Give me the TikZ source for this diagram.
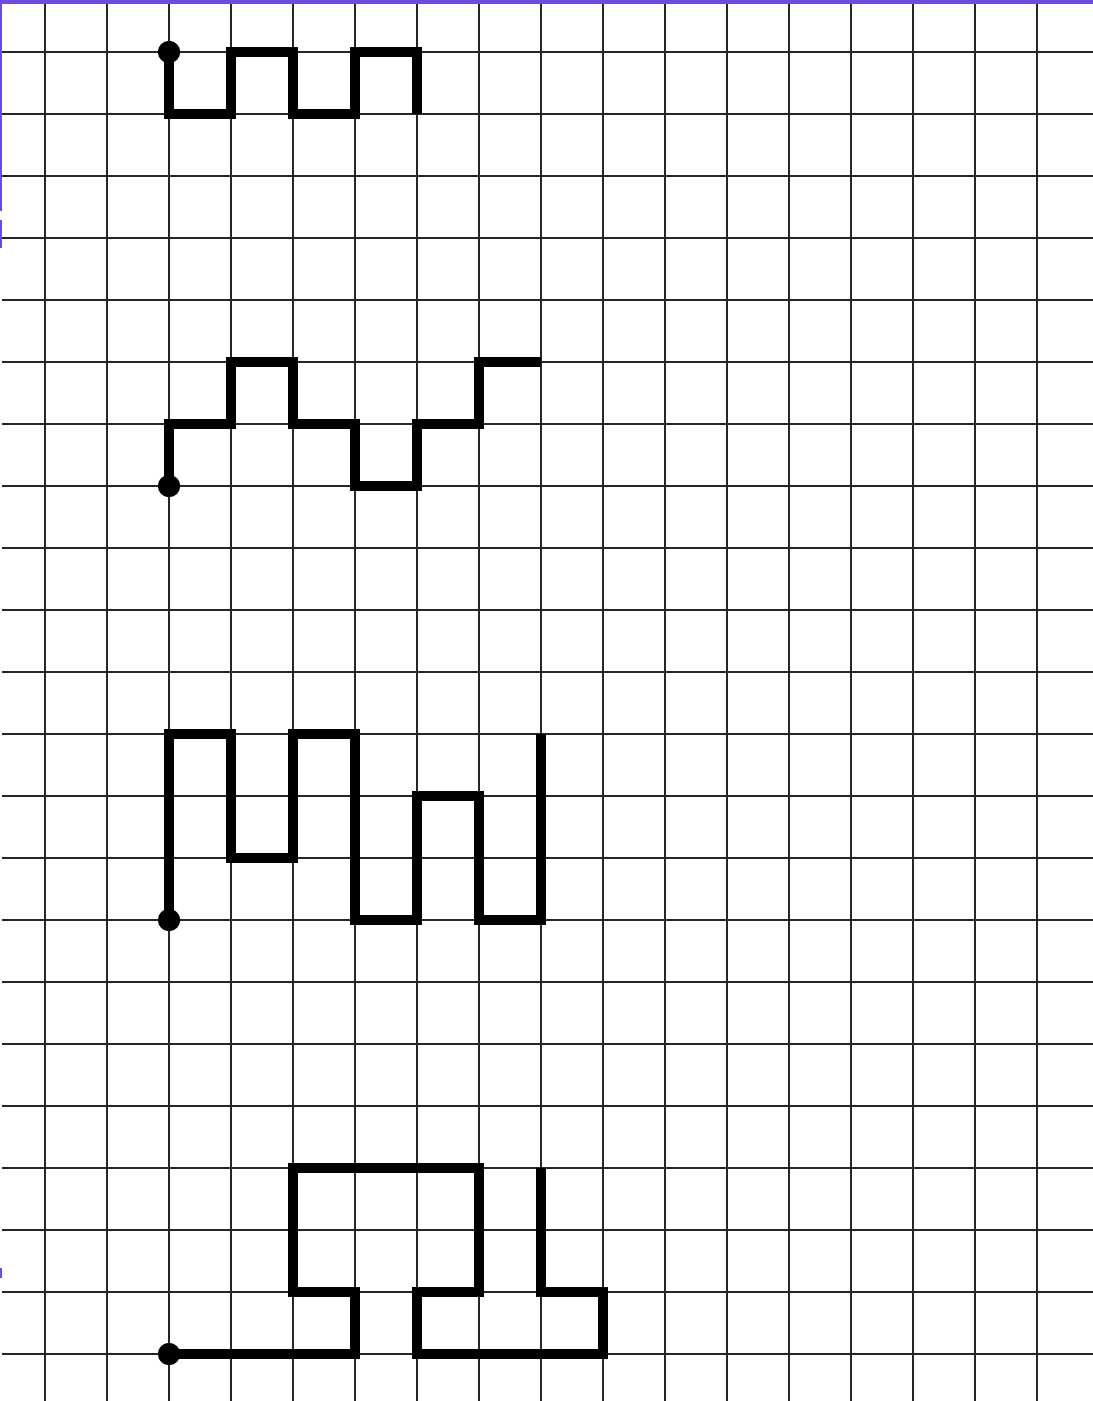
\documentclass[tikz,border=0pt]{standalone}
\usepackage{xcolor}
\usepackage{tikz}

\definecolor{morado}{RGB}{108,75,224}

\begin{document}
\begin{tikzpicture}[
  linea/.style={draw=black!85, line width=0.9pt},
  camino/.style={draw=black, line width=4.2pt, line join=miter},
  punto/.style={fill=black},
  borde/.style={draw=morado}
]
  % margenes de la hoja
  \useasboundingbox[fill=white] (-0.726,0.839) rectangle (16.903,-21.758);
  % cuadricula
  \foreach \i in {0,...,16}
    \draw[linea] (\i,0.839) -- (\i,-21.758);
  \foreach \j in {0,...,21}
    \draw[linea] (-0.69,-\j) -- (16.903,-\j);
  % borde morado
  \draw[borde, line width=1.9pt] (-0.726,0.805) -- (16.903,0.805);
  \draw[borde, line width=1pt] (-0.71,0.839) -- (-0.71,-2.57);
  \draw[borde, line width=1pt] (-0.71,-2.71) -- (-0.71,-3.16);
  \draw[borde, line width=1.2pt] (-0.71,-19.61) -- (-0.71,-19.77);
  % puntos de inicio
  \coordinate (ini1) at (2,0);
  \coordinate (ini2) at (2,-7);
  \coordinate (ini3) at (2,-14);
  \coordinate (ini4) at (2,-21);
  % figura 1
  \draw[camino] (ini1) -- (2,-1) -- (3,-1) -- (3,0) -- (4,0) -- (4,-1)
    -- (5,-1) -- (5,0) -- (6,0) -- (6,-1);
  % figura 2
  \draw[camino] (ini2) -- (2,-6) -- (3,-6) -- (3,-5) -- (4,-5) -- (4,-6)
    -- (5,-6) -- (5,-7) -- (6,-7) -- (6,-6) -- (7,-6) -- (7,-5) -- (8,-5);
  % figura 3
  \draw[camino] (ini3) -- (2,-11) -- (3,-11) -- (3,-13) -- (4,-13) -- (4,-11)
    -- (5,-11) -- (5,-14) -- (6,-14) -- (6,-12) -- (7,-12) -- (7,-14)
    -- (8,-14) -- (8,-11);
  % figura 4
  \draw[camino] (ini4) -- (5,-21) -- (5,-20) -- (4,-20) -- (4,-18) -- (7,-18)
    -- (7,-20) -- (6,-20) -- (6,-21) -- (9,-21) -- (9,-20) -- (8,-20)
    -- (8,-18);
  \foreach \p in {ini1,ini2,ini3,ini4}
    \fill[punto] (\p) circle (0.18);
\end{tikzpicture}
\end{document}
